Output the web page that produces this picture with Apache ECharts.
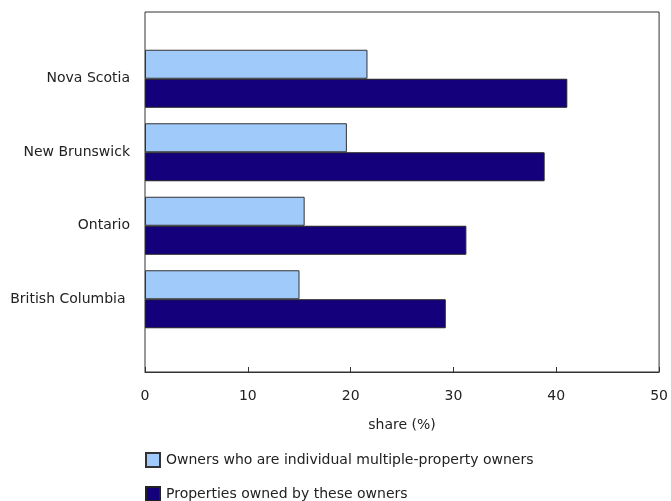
<!DOCTYPE html>
<html>
<head>
<meta charset="utf-8">
<script src="https://cdn.jsdelivr.net/npm/echarts@6/dist/echarts.min.js"></script>
<style>html,body{margin:0;padding:0;background:#fff;}#c{width:671px;height:501px;}</style>
</head>
<body>
<div id="c"></div>
<script>
var categories = ['Nova Scotia', 'New Brunswick', 'Ontario', 'British Columbia '];
var ownersShare = [21.6, 19.6, 15.5, 15.0];
var propertiesShare = [41.0, 38.8, 31.2, 29.2];
var seriesNames = ['Owners who are individual multiple-property owners', 'Properties owned by these owners'];
var xTicks = [0, 10, 20, 30, 40, 50];

var font = 'DejaVu Sans, Verdana, sans-serif';
var fs = 14;
var chart = echarts.init(document.getElementById('c'), null, {renderer: 'canvas'});
function legendAt(top, name) {
  return {
    orient: 'horizontal', left: 145, top: top, padding: 0, itemWidth: 14, itemHeight: 14,
    icon: 'rect', selectedMode: false,
    textStyle: {color: '#222', fontSize: fs, fontFamily: font, padding: [0, 0, 0, 1]},
    data: [name]
  };
}
chart.setOption({
  animation: false,
  backgroundColor: '#fff',
  textStyle: {fontFamily: font},
  grid: [
    {left: 145, top: 12, width: 515, height: 360, show: true, borderColor: '#333', borderWidth: 1, backgroundColor: 'transparent'},
    {left: 145, top: 42, width: 515, height: 294}
  ],
  xAxis: [
    {gridIndex: 0, type: 'value', min: xTicks[0], max: xTicks[xTicks.length - 1], interval: 10,
     axisLine: {show: true, lineStyle: {color: '#333', width: 1}},
     axisTick: {show: true, inside: true, length: 5, lineStyle: {color: '#333'}},
     axisLabel: {color: '#222', fontSize: fs, fontFamily: font, margin: 17},
     splitLine: {show: false},
     name: 'share (%)', nameLocation: 'middle', nameGap: 46,
     nameTextStyle: {color: '#222', fontSize: fs, fontFamily: font}},
    {gridIndex: 1, type: 'value', min: 0, max: 50, show: false, splitLine: {show: false}}
  ],
  yAxis: [
    {gridIndex: 0, type: 'value', show: false, splitLine: {show: false}},
    {gridIndex: 1, type: 'category', data: categories, inverse: true,
     axisLine: {show: false}, axisTick: {show: false},
     axisLabel: {color: '#222', fontSize: fs, fontFamily: font, margin: 15, padding: [3, 0, 0, 0]}}
  ],
  legend: [legendAt(452, seriesNames[0]), legendAt(486, seriesNames[1])],
  series: [
    {name: seriesNames[0], type: 'bar', xAxisIndex: 1, yAxisIndex: 1, data: ownersShare,
     barWidth: 29, barGap: '0%',
     itemStyle: {color: '#a0cafa', borderColor: '#333', borderWidth: 1}},
    {name: seriesNames[1], type: 'bar', xAxisIndex: 1, yAxisIndex: 1, data: propertiesShare,
     barWidth: 29, barGap: '0%',
     itemStyle: {color: '#13007a', borderColor: '#222', borderWidth: 1}}
  ]
});
</script>
</body>
</html>
